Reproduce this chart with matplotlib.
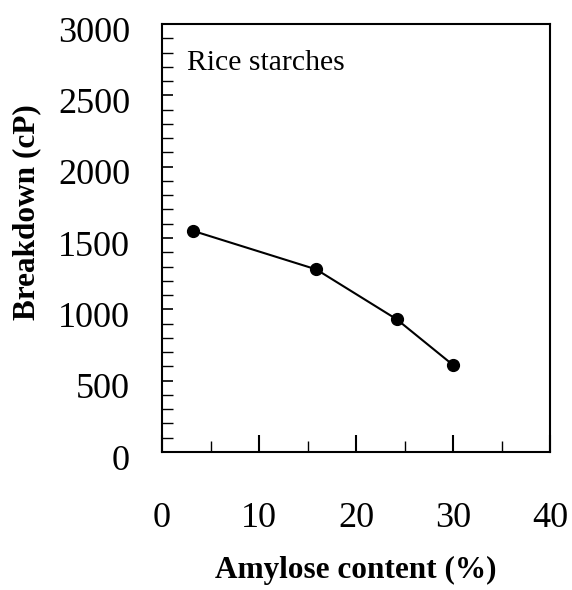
import matplotlib
matplotlib.use("Agg")
import matplotlib.pyplot as plt
import matplotlib.transforms as mtransforms
from matplotlib.ticker import MultipleLocator

# Breakdown viscosity of rice starches vs. amylose content
amylose_pct = [3.2, 15.9, 24.2, 30.0]
breakdown_cp = [1550, 1280, 930, 610]

x_ticks = [0, 10, 20, 30, 40]
y_ticks = [0, 500, 1000, 1500, 2000, 2500, 3000]

plt.rcParams["font.family"] = ["Liberation Serif", "DejaVu Serif"]

W, H = 572, 590
fig = plt.figure(figsize=(W / 100, H / 100), dpi=100)
ax = fig.add_axes([162 / W, 1 - 452 / H, 388 / W, 428 / H])

ax.plot(amylose_pct, breakdown_cp, color="black", linewidth=1.5,
        marker="o", markersize=8.5, markerfacecolor="black", markeredgecolor="black")

ax.set_xlim(0, 40)
ax.set_ylim(0, 3000)
ax.set_xticks(x_ticks)
ax.set_yticks(y_ticks)
ax.xaxis.set_minor_locator(MultipleLocator(5))
ax.yaxis.set_minor_locator(MultipleLocator(100))

ax.tick_params(axis="both", which="both", direction="in", top=False, right=False)
ax.tick_params(axis="x", which="major", length=12, width=1.5, pad=36, labelsize=26)
ax.tick_params(axis="x", which="minor", length=8, width=1.0)
ax.tick_params(axis="y", which="major", length=8, width=1.2, pad=23, labelsize=26)
ax.tick_params(axis="y", which="minor", length=8, width=1.0)

# y tick labels sit a little below their ticks
shift = mtransforms.ScaledTranslation(0, -5 / 100, fig.dpi_scale_trans)
for lbl in ax.get_yticklabels():
    lbl.set_transform(lbl.get_transform() + shift)

for spine in ax.spines.values():
    spine.set_linewidth(1.5)

ax.set_xlabel("Amylose content (%)", fontsize=22.5, fontweight="bold", labelpad=15)
ax.set_ylabel("Breakdown (cP)", fontsize=22.5, fontweight="bold")
ax.yaxis.label.set_va("center")
ax.yaxis.set_label_coords((27 - 162) / 388, (452 - 212) / 428)

ax.text(0.065, 0.8925, "Rice starches", transform=ax.transAxes,
        fontsize=21.4, ha="left", va="baseline")

fig.savefig("out.png", dpi=100)
